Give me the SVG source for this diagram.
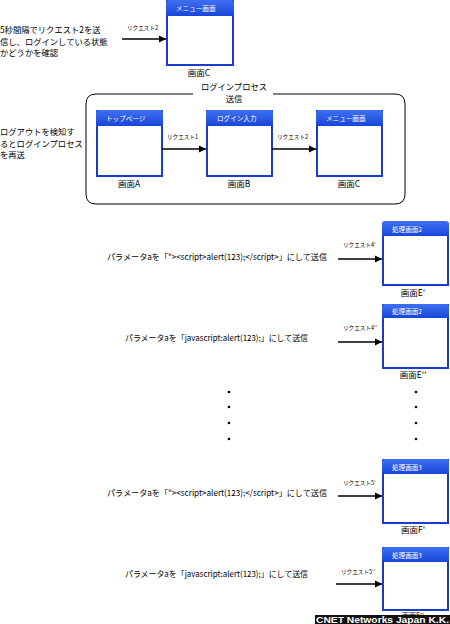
<svg xmlns="http://www.w3.org/2000/svg" width="450" height="624" viewBox="0 0 450 624">
<defs>
<linearGradient id="hg" x1="0" y1="0" x2="0" y2="1"><stop offset="0" stop-color="#3f70f2"/><stop offset="1" stop-color="#1846d8"/></linearGradient>
<marker id="ah" markerWidth="8" markerHeight="8" refX="7" refY="4" orient="auto" markerUnits="userSpaceOnUse"><path d="M0,0.5 L7,4 L0,7.5 Z" fill="#000"/></marker>
</defs>
<style>
text{font-family:"Noto Sans CJK JP","Liberation Sans",sans-serif;fill:#000}
.t{font-size:8.3px}
.lb{font-size:8.5px;text-anchor:middle}
.rq{font-size:5.6px}
.hd{font-size:6.6px;fill:#fff}
.body{fill:#fff;stroke:#1a3ccc;stroke-width:2}
.head{fill:url(#hg)}
.ar{stroke:#000;stroke-width:1.6;fill:none;marker-end:url(#ah)}
.dot{fill:#000}
</style>
<rect width="450" height="624" fill="#fff"/>

<text class="t" x="0" y="33">5秒間隔でリクエスト2を送</text>
<text class="t" x="0" y="44.5">信し、ログインしている状態</text>
<text class="t" x="0" y="56">かどうかを確認</text>

<text class="t" x="0" y="135">ログアウトを検知す</text>
<text class="t" x="0" y="146.5">るとログインプロセス</text>
<text class="t" x="0" y="158">を再送</text>

<g id="process">
<path d="M193,94 H96 Q86,94 86,104 V194 Q86,204 96,204 H395 Q405,204 405,194 V104 Q405,94 395,94 H273" fill="none" stroke="#000" stroke-width="1"/>
<text class="t" x="234" y="90" text-anchor="middle">ログインプロセス</text>
<text class="t" x="234" y="102" text-anchor="middle">送信</text>
</g>

<g id="screenC-top">
<rect class="body" x="167" y="1" width="66" height="64"/>
<path class="head" d="M166,3 Q166,0 169,0 H231 Q234,0 234,3 V16 H166 Z"/>
<text class="hd" x="176" y="11">メニュー画面</text>
<text class="lb" x="199" y="76">画面C</text>
</g>

<g id="screenA">
<rect class="body" x="97" y="111" width="65" height="65"/>
<path class="head" d="M96,113 Q96,110 99,110 H160 Q163,110 163,113 V126 H96 Z"/>
<text class="hd" x="106" y="121">トップページ</text>
<text class="lb" x="129" y="187">画面A</text>
</g>
<g id="screenB">
<rect class="body" x="207" y="111" width="65" height="65"/>
<path class="head" d="M206,113 Q206,110 209,110 H270 Q273,110 273,113 V126 H206 Z"/>
<text class="hd" x="217" y="121">ログイン入力</text>
<text class="lb" x="239" y="187">画面B</text>
</g>
<g id="screenC">
<rect class="body" x="317" y="111" width="65" height="65"/>
<path class="head" d="M316,113 Q316,110 319,110 H380 Q383,110 383,113 V126 H316 Z"/>
<text class="hd" x="326" y="121">メニュー画面</text>
<text class="lb" x="349" y="187">画面C</text>
</g>

<g id="screenE1">
<rect class="body" x="383" y="224" width="65" height="61"/>
<path class="head" d="M382,224 Q382,221 385,221 H446 Q449,221 449,224 V236 H382 Z"/>
<text class="hd" x="392" y="232">処理画面2</text>
<text class="lb" x="413" y="296">画面E'</text>
</g>
<g id="screenE2">
<rect class="body" x="383" y="305" width="65" height="63"/>
<path class="head" d="M382,307 Q382,304 385,304 H446 Q449,304 449,307 V318 H382 Z"/>
<text class="hd" x="392" y="314">処理画面2</text>
<text class="lb" x="413" y="378">画面E''</text>
</g>
<g id="screenF1">
<rect class="body" x="383" y="460" width="65" height="63"/>
<path class="head" d="M382,462 Q382,459 385,459 H446 Q449,459 449,462 V474 H382 Z"/>
<text class="hd" x="392" y="470">処理画面3</text>
<text class="lb" x="413" y="533">画面F'</text>
</g>
<g id="screenF2">
<rect class="body" x="383" y="548" width="65" height="62"/>
<path class="head" d="M382,550 Q382,547 385,547 H446 Q449,547 449,550 V562 H382 Z"/>
<text class="lb" x="413" y="617.5" style="font-size:7px">画面F''</text>
<text class="hd" x="392" y="558">処理画面3</text>
</g>

<g id="connectors">
<line class="ar" x1="122" y1="39" x2="166" y2="39"/>
<text class="rq" x="127" y="30">リクエスト2</text>
<line class="ar" x1="162" y1="149" x2="206" y2="149"/>
<text class="rq" x="167" y="139">リクエスト1</text>
<line class="ar" x1="272" y1="149" x2="316" y2="149"/>
<text class="rq" x="277" y="139">リクエスト2</text>
<line class="ar" x1="338" y1="259" x2="382" y2="259"/>
<text class="rq" x="343" y="247">リクエスト4'</text>
<line class="ar" x1="338" y1="342" x2="382" y2="342"/>
<text class="rq" x="343" y="330">リクエスト4''</text>
<line class="ar" x1="338" y1="496" x2="382" y2="496"/>
<text class="rq" x="343" y="485">リクエスト5'</text>
<line class="ar" x1="336" y1="584" x2="382" y2="584"/>
<text class="rq" x="341" y="574">リクエスト5''</text>
</g>

<text class="t" x="107" y="260" textLength="220" lengthAdjust="spacingAndGlyphs">パラメータaを「"&gt;&lt;script&gt;alert(123);&lt;/script&gt;」にして送信</text>
<text class="t" x="125" y="341" textLength="183" lengthAdjust="spacingAndGlyphs">パラメータaを「javascript:alert(123);」にして送信</text>
<text class="t" x="107" y="496" textLength="220" lengthAdjust="spacingAndGlyphs">パラメータaを「"&gt;&lt;script&gt;alert(123);&lt;/script&gt;」にして送信</text>
<text class="t" x="125" y="577" textLength="183" lengthAdjust="spacingAndGlyphs">パラメータaを「javascript:alert(123);」にして送信</text>

<g id="dots">
<circle class="dot" cx="229" cy="392" r="1.3"/>
<circle class="dot" cx="229" cy="407" r="1.3"/>
<circle class="dot" cx="229" cy="423" r="1.3"/>
<circle class="dot" cx="229" cy="439" r="1.3"/>
<circle class="dot" cx="416" cy="392" r="1.3"/>
<circle class="dot" cx="416" cy="407" r="1.3"/>
<circle class="dot" cx="416" cy="423" r="1.3"/>
<circle class="dot" cx="416" cy="439" r="1.3"/>
</g>

<rect x="315" y="615" width="135" height="9" fill="#111"/>
<text x="449" y="623" text-anchor="end" style="font-family:'Liberation Sans',sans-serif;font-size:9px;font-weight:bold;fill:#fff" textLength="133" lengthAdjust="spacingAndGlyphs">CNET Networks Japan K.K.</text>
</svg>
